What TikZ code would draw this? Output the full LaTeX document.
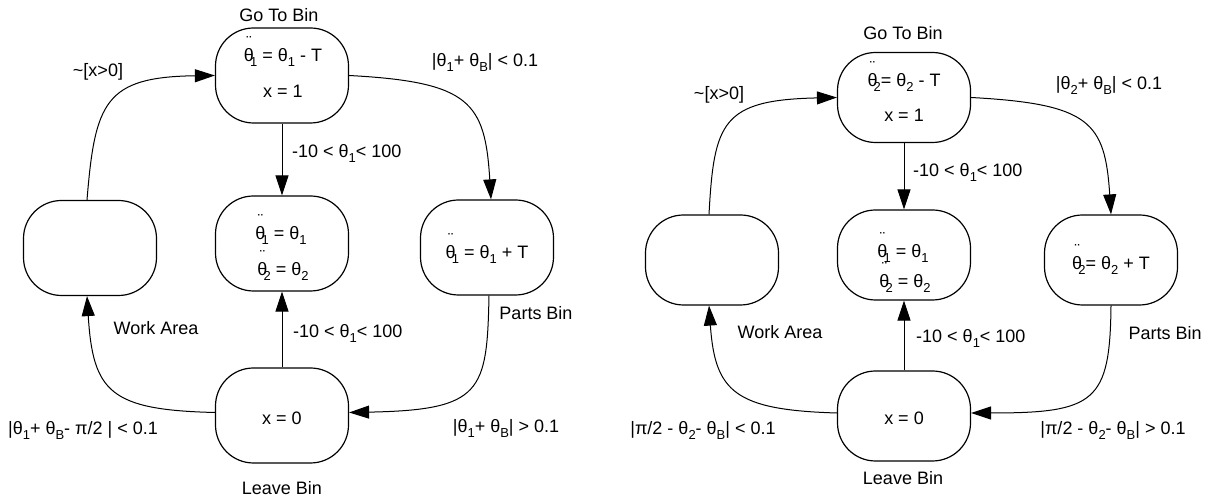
\documentclass[tikz,border=0pt]{standalone}
\usepackage{fontspec}
\setmainfont{Liberation Sans}
\usetikzlibrary{arrows.meta}

% lowered subscript in the text font
\newcommand{\sbs}[1]{\raisebox{-5pt}{\fontsize{13}{13}\selectfont #1}}
% theta with two dots above and a tucked-in subscript
\newcommand{\thdd}[1]{\ooalign{θ\cr\hidewidth\raisebox{14pt}{\fontsize{16}{16}\selectfont ¨}\hidewidth\cr}\kern-0.22em\sbs{#1}}
% plain theta with subscript
\newcommand{\ths}[1]{θ\sbs{#1}}

\begin{document}
\begin{tikzpicture}[x=1pt,y=1pt,
  state/.style={draw, line width=1.2pt, rounded corners=38pt,
    minimum width=133pt, minimum height=95pt, inner sep=0pt},
  stateb/.style={state, minimum height=90pt},
  txt/.style={font=\fontsize{18}{22}\selectfont, inner sep=0pt, anchor=base},
  lbl/.style={font=\fontsize{18}{22}\selectfont, inner sep=0pt},
  flow/.style={line width=1pt, -{Triangle[length=20pt,width=13pt]}},
]
\useasboundingbox (0,0) rectangle (1212,502);

% ---------------- first machine (theta 1) ----------------
\node[state] (gtb1) at (282,426.5) {};
\node[state] (mid1) at (282,258.5) {};
\node[state] (wa1)  at (90,254)    {};
\node[state] (pb1)  at (487,254.5) {};
\node[state] (lb1)  at (282,86.5)  {};

\node[txt] (gtb1a) at (283,440.5) {\thdd{1} = \ths{1} - T};
\node[txt] (gtb1b) at (283,404)   {x = 1};
\node[txt] (mid1a) at (281,262)   {\thdd{1} = \ths{1}};
\node[txt] (mid1b) at (283,226)   {\thdd{2} = \ths{2}};
\node[txt] (pb1a)  at (487,243.5) {\thdd{1} = \ths{1} + T};
\node[txt] (lb1a)  at (282,77.5)  {x = 0};

\node[lbl] (gtb1n) at (279,487) {Go To Bin};
\node[lbl] (lb1n)  at (282,14)  {Leave Bin};
\node[lbl] (wa1n)  at (156,174) {Work Area};
\node[lbl] (pb1n)  at (536,189) {Parts Bin};

\node[lbl] (c1a) at (98,430)  {\textasciitilde[x>0]};
\node[lbl] (c1b) at (485,440) {|\ths{1}+ \ths{B}| < 0.1};
\node[lbl,anchor=west] (c1c) at (292,349) {-10 < \ths{1}< 100};
\node[lbl,anchor=west] (c1d) at (293,169) {-10 < \ths{1}< 100};
\node[lbl] (c1e) at (83,72)   {|\ths{1}+ \ths{B}- π/2 | < 0.1};
\node[lbl] (c1f) at (506,74)  {|\ths{1}+ \ths{B}| > 0.1};

\draw[flow] ([xshift=-3pt]wa1.north) .. controls (95,400) and (105,425) .. (gtb1.west);
\draw[flow] (gtb1.east) .. controls (470,420) and (485,400) .. ([xshift=4pt]pb1.north);
\draw[flow] ([xshift=2pt]pb1.south) .. controls (487,110) and (482,92) .. ([yshift=3pt]lb1.east);
\draw[flow] ([yshift=3pt]lb1.west) .. controls (110,92) and (93,110) .. ([xshift=-3pt]wa1.south);
\draw[flow] (gtb1.south) -- (mid1.north);
\draw[flow] (lb1.north) -- (mid1.south);

% ---------------- second machine (theta 2) ----------------
\node[stateb] (gtb2) at (904,404.5) {};
\node[stateb] (mid2) at (904,247)   {};
\node[stateb] (wa2)  at (712,242)   {};
\node[stateb] (pb2)  at (1111,242)  {};
\node[stateb] (lb2)  at (904,86)    {};

\node[txt] (gtb2a) at (904,415.5) {\thdd{2}= \ths{2} - T};
\node[txt] (gtb2b) at (904,380.5) {x = 1};
\node[txt] (mid2a) at (903,244)   {\thdd{1} = \ths{1}};
\node[txt] (mid2b) at (905,214)   {\thdd{2} = \ths{2}};
\node[txt] (pb2a)  at (1111,232.5) {\thdd{2}= \ths{2} + T};
\node[txt] (lb2a)  at (904,77.5)  {x = 0};

\node[lbl] (gtb2n) at (903,469) {Go To Bin};
\node[lbl] (lb2n)  at (903,24)  {Leave Bin};
\node[lbl] (wa2n)  at (780,170) {Work Area};
\node[lbl] (pb2n)  at (1165,169) {Parts Bin};

\node[lbl] (c2a) at (719,407)  {\textasciitilde[x>0]};
\node[lbl] (c2b) at (1109,417) {|\ths{2}+ \ths{B}| < 0.1};
\node[lbl,anchor=west] (c2c) at (913,330) {-10 < \ths{1}< 100};
\node[lbl,anchor=west] (c2d) at (916,164) {-10 < \ths{1}< 100};
\node[lbl] (c2e) at (703,72)   {|π/2 - \ths{2}- \ths{B}| < 0.1};
\node[lbl] (c2f) at (1113,72)  {|π/2 - \ths{2}- \ths{B}| > 0.1};

\draw[flow] ([xshift=-3pt]wa2.north) .. controls (714,380) and (722,402) .. (gtb2.west);
\draw[flow] (gtb2.east) .. controls (1090,398) and (1105,380) .. (pb2.north);
\draw[flow] (pb2.south) .. controls (1110,100) and (1095,89) .. ([yshift=3pt]lb2.east);
\draw[flow] ([yshift=3pt]lb2.west) .. controls (735,92) and (715,110) .. ([xshift=-3pt]wa2.south);
\draw[flow] (gtb2.south) -- (mid2.north);
\draw[flow] (lb2.north) -- (mid2.south);
\end{tikzpicture}
\end{document}
